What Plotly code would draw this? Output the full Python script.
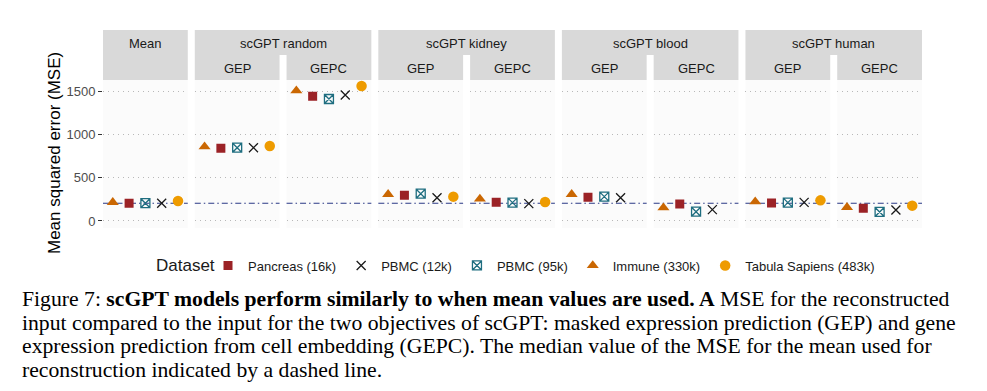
import plotly.graph_objects as go

# ---------------- data ----------------
groups = ["Mean", "scGPT random", "scGPT kidney", "scGPT blood", "scGPT human"]
objectives = ["GEP", "GEPC"]
# panel order: Mean, then (GEP, GEPC) for each scGPT model
panel_group = ["Mean", "scGPT random", "scGPT random", "scGPT kidney", "scGPT kidney",
               "scGPT blood", "scGPT blood", "scGPT human", "scGPT human"]
panel_objective = ["", "GEP", "GEPC", "GEP", "GEPC", "GEP", "GEPC", "GEP", "GEPC"]

x_order = ["Immune (330k)", "Pancreas (16k)", "PBMC (95k)", "PBMC (12k)", "Tabula Sapiens (483k)"]
legend_order = ["Pancreas (16k)", "PBMC (12k)", "PBMC (95k)", "Immune (330k)", "Tabula Sapiens (483k)"]

mse_pancreas = [205, 839, 1439, 296, 216, 273, 196, 208, 146]
mse_pbmc12k = [205, 846, 1454, 269, 200, 269, 131, 215, 127]
mse_pbmc95k = [205, 846, 1408, 315, 212, 281, 107, 212, 104]
mse_immune = [215, 858, 1504, 308, 254, 308, 154, 223, 158]
mse_tabula = [230, 865, 1558, 281, 219, None, None, 238, 177]

y_ticks = [0, 500, 1000, 1500]
y_title = "Mean squared error (MSE)"
legend_title = "Dataset"

caption_lines = [
    "Figure 7: <b>scGPT models perform similarly to when mean values are used. A</b> MSE for the reconstructed",
    "input compared to the input for the two objectives of scGPT: masked expression prediction (GEP) and gene",
    "expression prediction from cell embedding (GEPC). The median value of the MSE for the mean used for",
    "reconstruction indicated by a dashed line.",
]

# ---------------- styles ----------------
values = {
    "Pancreas (16k)": mse_pancreas,
    "PBMC (12k)": mse_pbmc12k,
    "PBMC (95k)": mse_pbmc95k,
    "Immune (330k)": mse_immune,
    "Tabula Sapiens (483k)": mse_tabula,
}
styles = {
    "Pancreas (16k)": dict(symbol="square", color="#9B2226", size=9, line=dict(width=0)),
    "PBMC (12k)": dict(symbol="x-thin-open", color="#1a1a1a", size=9, line=dict(width=1.3, color="#1a1a1a")),
    "PBMC (95k)": dict(symbol="square-x-open", color="#1F6E80", size=9, line=dict(width=1.3, color="#1F6E80")),
    "Immune (330k)": dict(symbol="triangle-up", color="#CA6702", size=10.5, line=dict(width=0)),
    "Tabula Sapiens (483k)": dict(symbol="circle", color="#EE9B00", size=10.5, line=dict(width=0)),
}

W, H = 987, 391
def px_x(p):
    return p / W
def px_y(p):
    return 1 - p / H

n_panels = len(panel_group)
left, right, gap = 103, 922, 7
pw = (right - left - gap * (n_panels - 1)) / n_panels
panel_left = [left + i * (pw + gap) for i in range(n_panels)]
plot_top, plot_bot = 80, 228
strip_top, strip_mid = 30, 55

mean_median = sorted(mse_pancreas[:1] + mse_pbmc12k[:1] + mse_pbmc95k[:1] + mse_immune[:1] + mse_tabula[:1])[2]

fig = go.Figure()
for ds in legend_order:
    st = styles[ds]
    for i in range(n_panels):
        v = values[ds][i]
        if v is None:
            continue
        fig.add_trace(go.Scatter(
            x=[ds], y=[v], mode="markers",
            xaxis="x" if i == 0 else f"x{i+1}",
            yaxis="y" if i == 0 else f"y{i+1}",
            marker=dict(symbol=st["symbol"], color=st["color"], size=st["size"], line=st["line"]),
            name=ds, legendgroup=ds, showlegend=(i == 0), hoverinfo="skip",
        ))

layout = dict(
    width=W, height=H,
    margin=dict(l=0, r=0, t=0, b=0),
    paper_bgcolor="white",
    plot_bgcolor="#FBFBFB",
    font=dict(family="Liberation Sans, Arial, sans-serif", color="#1a1a1a"),
    showlegend=True,
    legend=dict(
        orientation="h", x=px_x(208), xanchor="left", y=px_y(265.5), yanchor="middle",
        font=dict(size=13, color="#1a1a1a"),
        bgcolor="rgba(0,0,0,0)", itemwidth=30, tracegroupgap=0,
    ),
)
shapes = []
annotations = []
for i in range(n_panels):
    xn = "xaxis" if i == 0 else f"xaxis{i+1}"
    yn = "yaxis" if i == 0 else f"yaxis{i+1}"
    xr = "x" if i == 0 else f"x{i+1}"
    yr = "y" if i == 0 else f"y{i+1}"
    layout[xn] = dict(
        domain=[px_x(panel_left[i]), px_x(panel_left[i] + pw)],
        anchor=yr, type="category", categoryorder="array", categoryarray=x_order,
        range=[-0.6, 4.6], showgrid=False, showticklabels=False, ticks="",
        zeroline=False, showline=False, fixedrange=True,
    )
    layout[yn] = dict(
        domain=[px_y(plot_bot), px_y(plot_top)], anchor=xr,
        range=[-81, 1627], tickvals=y_ticks, showgrid=True,
        gridcolor="#B8B8B8", gridwidth=1.1, griddash="1px,4px",
        zeroline=False, showline=False,
        showticklabels=(i == 0), ticks="outside" if i == 0 else "",
        ticklen=4, tickwidth=1, tickcolor="#333333",
        tickfont=dict(size=13, color="#4D4D4D"),
    )
    if i > 0:
        layout[yn]["matches"] = "y"
    # median of the Mean reference
    shapes.append(dict(type="line", xref=f"{xr} domain", x0=0, x1=1, yref=yr,
                       y0=mean_median, y1=mean_median,
                       line=dict(color="#2B3A86", width=1.1, dash="6px,3px,1.5px,3px"), layer="below"))
    # objective strips
    if panel_objective[i]:
        shapes.append(dict(type="rect", xref="paper", yref="paper",
                           x0=px_x(panel_left[i]), x1=px_x(panel_left[i] + pw),
                           y0=px_y(plot_top), y1=px_y(strip_mid),
                           fillcolor="#D9D9D9", line=dict(width=0), layer="below"))
        annotations.append(dict(text=panel_objective[i], xref="paper", yref="paper",
                                x=px_x(panel_left[i] + pw / 2), y=px_y((strip_mid + plot_top) / 2 + 0.5),
                                showarrow=False, font=dict(size=13, color="#1a1a1a"),
                                xanchor="center", yanchor="middle"))

# group strips
for g in groups:
    idx = [i for i, pg in enumerate(panel_group) if pg == g]
    x0 = panel_left[idx[0]]
    x1 = panel_left[idx[-1]] + pw
    y1 = plot_top if g == "Mean" else strip_mid
    shapes.append(dict(type="rect", xref="paper", yref="paper",
                       x0=px_x(x0), x1=px_x(x1), y0=px_y(y1), y1=px_y(strip_top),
                       fillcolor="#D9D9D9", line=dict(width=0), layer="below"))
    annotations.append(dict(text=g, xref="paper", yref="paper",
                            x=px_x((x0 + x1) / 2), y=px_y((strip_top + strip_mid) / 2 + 0.5),
                            showarrow=False, font=dict(size=13, color="#1a1a1a"),
                            xanchor="center", yanchor="middle"))

# y title
annotations.append(dict(text=y_title, xref="paper", yref="paper", x=px_x(55), y=px_y(153),
                        textangle=-90, showarrow=False, font=dict(size=17, color="#000000"),
                        xanchor="center", yanchor="middle"))
# legend title
annotations.append(dict(text=legend_title, xref="paper", yref="paper", x=px_x(154), y=px_y(265),
                        showarrow=False, font=dict(size=17, color="#1a1a1a"),
                        xanchor="left", yanchor="middle"))

# caption
cap_y = [299, 322.5, 346, 369.5]
for line, yy in zip(caption_lines, cap_y):
    annotations.append(dict(text=line, xref="paper", yref="paper", x=px_x(20), y=px_y(yy),
                            showarrow=False, xanchor="left", yanchor="middle",
                            font=dict(family="Liberation Serif, Times New Roman, serif", size=21.7, color="#000000")))

layout["shapes"] = shapes
layout["annotations"] = annotations
fig.update_layout(**layout)
fig.write_html("out.html", config={"displayModeBar": False},
               post_script="document.body.style.margin='0px';document.body.style.overflow='hidden';")
